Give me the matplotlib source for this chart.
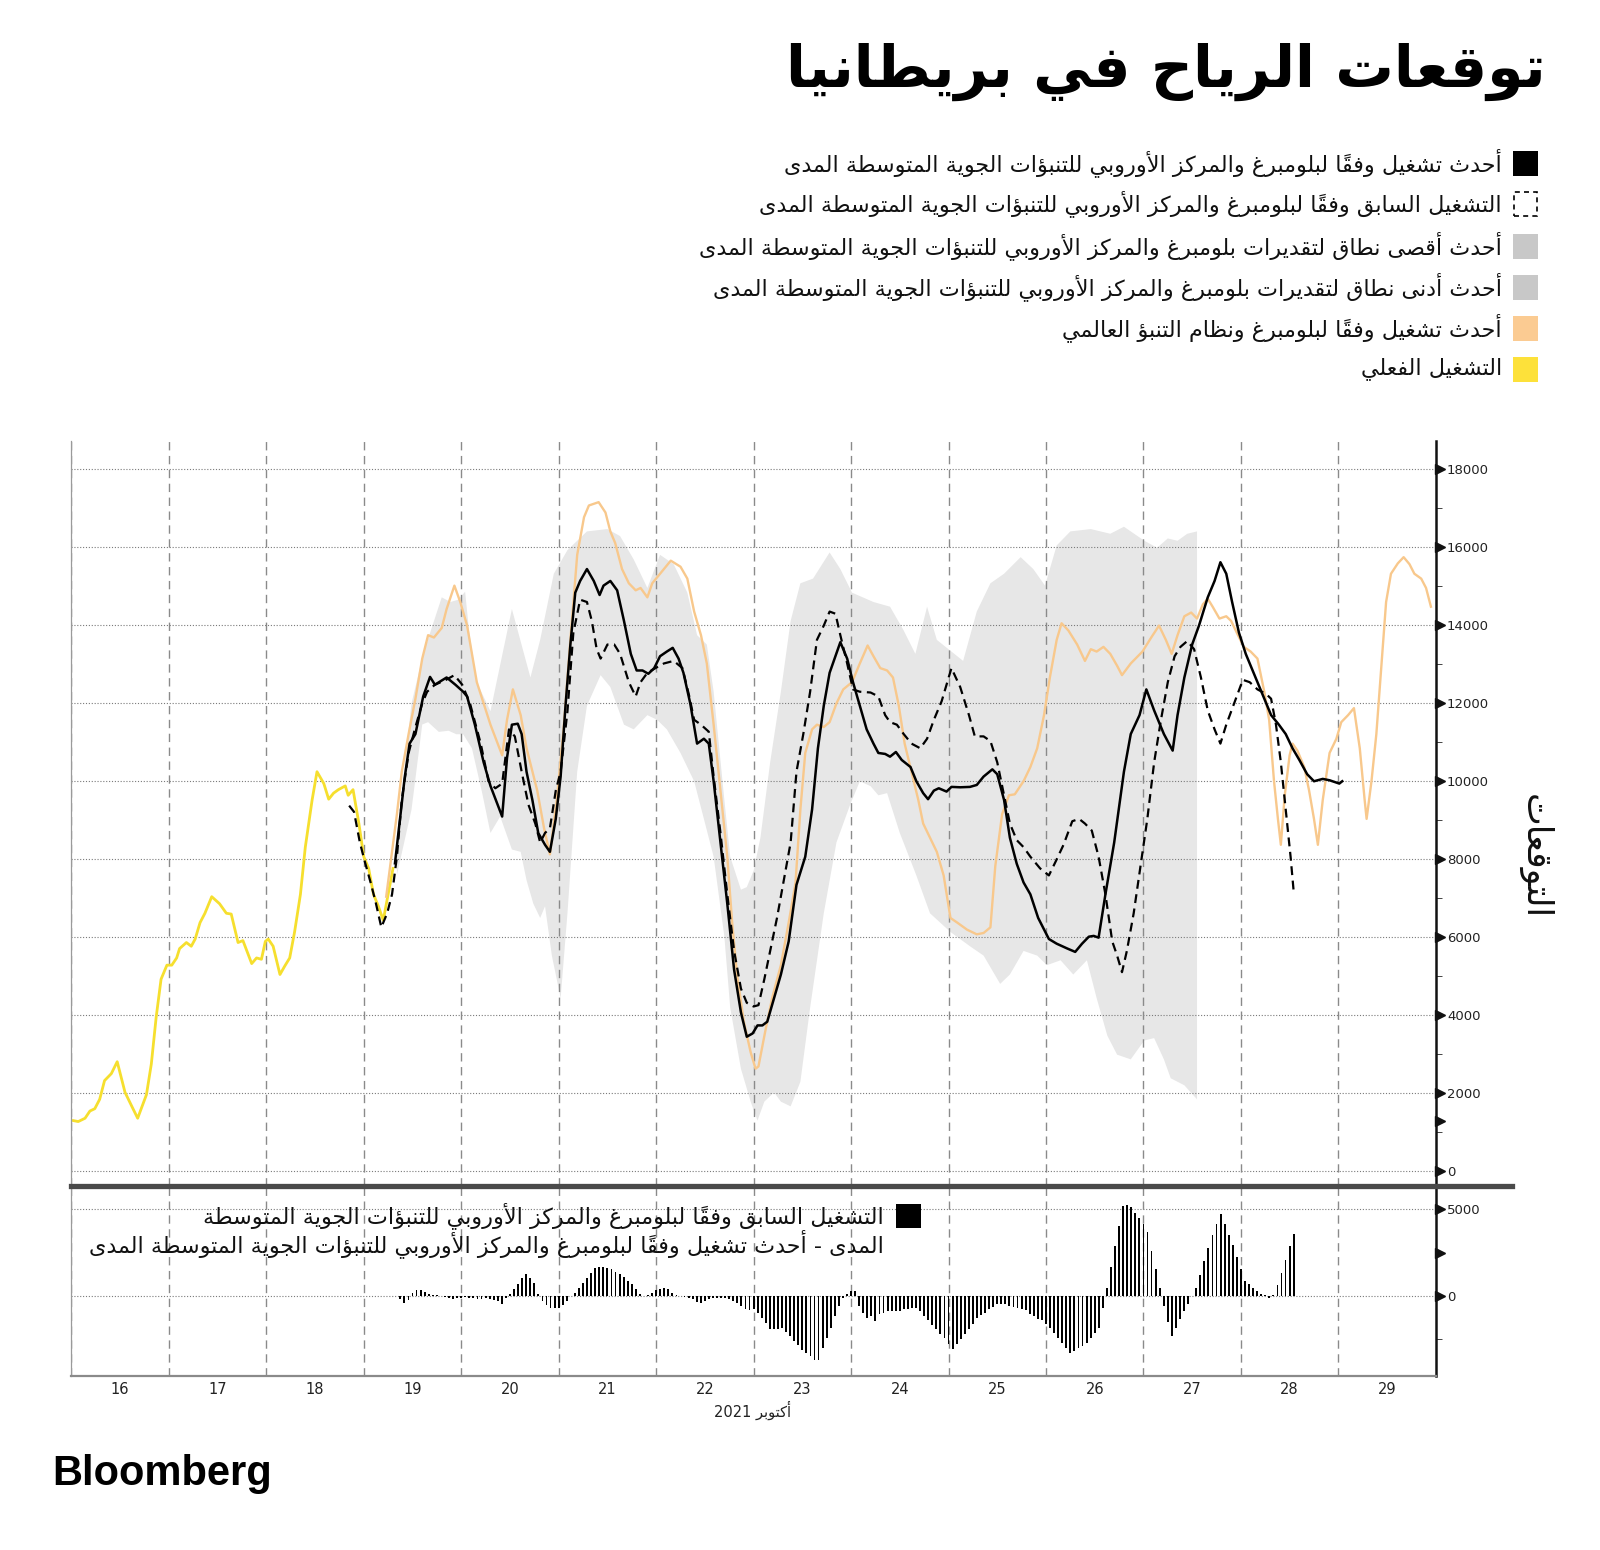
import numpy as np
import matplotlib
matplotlib.use("Agg")
import matplotlib.pyplot as plt
import matplotlib.transforms as mtransforms
from matplotlib.patches import Rectangle
from matplotlib.lines import Line2D
from matplotlib.ticker import MultipleLocator

# ---------------- data (days of October 2021, MW) ----------------
title = "توقعات الرياح في بريطانيا"
legend_labels = [
    "أحدث تشغيل وفقاً لبلومبرغ والمركز الأوروبي للتنبؤات الجوية المتوسطة المدى",
    "التشغيل السابق وفقاً لبلومبرغ والمركز الأوروبي للتنبؤات الجوية المتوسطة المدى",
    "أحدث أقصى نطاق لتقديرات بلومبرغ والمركز الأوروبي للتنبؤات الجوية المتوسطة المدى",
    "أحدث أدنى نطاق لتقديرات بلومبرغ والمركز الأوروبي للتنبؤات الجوية المتوسطة المدى",
    "أحدث تشغيل وفقاً لبلومبرغ ونظام التنبؤ العالمي",
    "التشغيل الفعلي",
]
diff_label = ["التشغيل السابق وفقاً لبلومبرغ والمركز الأوروبي للتنبؤات الجوية المتوسطة",
              "المدى - أحدث تشغيل وفقاً لبلومبرغ والمركز الأوروبي للتنبؤات الجوية المتوسطة المدى"]
ylabel = "التوقعات"
xlabel = "أكتوبر 2021"
day_labels = [str(d) for d in range(16, 30)]

actual_day = [16.02, 16.07, 16.14, 16.19, 16.24, 16.29, 16.34, 16.41, 16.47, 16.55, 16.62, 16.68,
              16.77, 16.82, 16.87, 16.92, 16.98, 17.03, 17.08, 17.11, 17.18, 17.23, 17.27, 17.32,
              17.37, 17.44, 17.52, 17.59, 17.64, 17.71, 17.76, 17.85, 17.90, 17.95, 17.99, 18.02,
              18.07, 18.14, 18.19, 18.24, 18.29, 18.35, 18.40, 18.47, 18.52, 18.59, 18.64, 18.69,
              18.74, 18.81, 18.84, 18.89, 18.95, 19.00, 19.05, 19.10, 19.15, 19.20, 19.25, 19.30]
actual_mw = [1305, 1280, 1365, 1550, 1610, 1850, 2330, 2510, 2815, 2030, 1670, 1365,
             1970, 2755, 3960, 4930, 5290, 5290, 5475, 5715, 5870, 5775, 5960, 6380,
             6620, 7045, 6865, 6620, 6600, 5870, 5920, 5330, 5475, 5440, 5900, 5960,
             5775, 5050, 5270, 5475, 6140, 7105, 8315, 9525, 10250, 9945, 9545, 9700,
             9790, 9885, 9645, 9790, 8920, 8070, 7770, 7105, 6800, 6440, 7105, 7770]

latest_day = [19.32, 19.37, 19.42, 19.47, 19.53, 19.61, 19.68, 19.73, 19.85, 19.94, 20.02, 20.06,
              20.14, 20.23, 20.30, 20.42, 20.47, 20.52, 20.58, 20.62, 20.67, 20.73, 20.79, 20.86,
              20.91, 20.97, 21.02, 21.07, 21.12, 21.17, 21.22, 21.29, 21.36, 21.42, 21.46, 21.53,
              21.60, 21.67, 21.74, 21.80, 21.86, 21.92, 21.98, 22.04, 22.11, 22.17, 22.23, 22.28,
              22.35, 22.42, 22.49, 22.54, 22.59, 22.66, 22.73, 22.80, 22.87, 22.93, 22.99, 23.04,
              23.09, 23.14, 23.28, 23.36, 23.44, 23.53, 23.60, 23.66, 23.72, 23.78, 23.89, 23.96,
              24.02, 24.09, 24.16, 24.23, 24.28, 24.35, 24.40, 24.46, 24.52, 24.61, 24.67, 24.74,
              24.79, 24.85, 24.90, 24.98, 25.03, 25.12, 25.22, 25.29, 25.36, 25.45, 25.50, 25.57,
              25.63, 25.70, 25.77, 25.84, 25.92, 26.03, 26.11, 26.22, 26.30, 26.37, 26.44, 26.49,
              26.54, 26.61, 26.70, 26.80, 26.87, 26.96, 27.03, 27.11, 27.21, 27.30, 27.35, 27.42,
              27.50, 27.57, 27.66, 27.73, 27.79, 27.85, 27.91, 27.98, 28.05, 28.14, 28.22, 28.31,
              28.39, 28.46, 28.53, 28.60, 28.68, 28.75, 28.84, 28.91, 29.01, 29.04]
latest_mw = [7900, 9000, 10100, 10970, 11215, 12180, 12680, 12480, 12665, 12480, 12300, 12180,
             11455, 10490, 9885, 9100, 10610, 11455, 11480, 11215, 10250, 9525, 8680, 8375,
             8195, 9040, 10125, 11940, 13510, 14840, 15140, 15445, 15140, 14780, 15020, 15140,
             14900, 14115, 13270, 12845, 12845, 12760, 12905, 13210, 13330, 13425, 13150, 12785,
             12000, 10970, 11095, 10970, 10005, 8435, 6865, 5170, 4080, 3455, 3540, 3745,
             3745, 3840, 5050, 5900, 7350, 8070, 9280, 10850, 11940, 12785, 13570, 13150,
             12545, 11940, 11335, 10970, 10730, 10705, 10635, 10755, 10550, 10370, 10005, 9700,
             9545, 9765, 9825, 9740, 9860, 9850, 9860, 9910, 10125, 10310, 10185, 9525,
             8555, 7890, 7410, 7105, 6500, 5960, 5840, 5715, 5630, 5840, 6020, 6040,
             5995, 7105, 8435, 10250, 11215, 11700, 12360, 11820, 11215, 10790, 11700, 12665,
             13510, 13995, 14720, 15140, 15620, 15325, 14600, 13815, 13270, 12725, 12240, 11700,
             11455, 11215, 10850, 10550, 10185, 10005, 10065, 10030, 9945, 10005]

prev_day = [18.85, 18.90, 18.96, 19.01, 19.07, 19.12, 19.18, 19.24, 19.29, 19.34, 19.39, 19.46,
            19.53, 19.60, 19.65, 19.73, 19.84, 19.93, 20.01, 20.09, 20.20, 20.28, 20.35, 20.42,
            20.49, 20.55, 20.62, 20.69, 20.76, 20.81, 20.86, 20.91, 20.97, 21.02, 21.09, 21.15,
            21.22, 21.29, 21.34, 21.39, 21.43, 21.50, 21.57, 21.63, 21.72, 21.79, 21.84, 21.91,
            22.01, 22.08, 22.18, 22.27, 22.34, 22.39, 22.46, 22.54, 22.59, 22.66, 22.73, 22.80,
            22.87, 22.93, 23.00, 23.05, 23.11, 23.17, 23.24, 23.31, 23.38, 23.44, 23.51, 23.58,
            23.65, 23.72, 23.78, 23.84, 23.89, 23.96, 24.02, 24.09, 24.20, 24.28, 24.35, 24.40,
            24.47, 24.54, 24.62, 24.71, 24.78, 24.85, 24.93, 25.03, 25.12, 25.21, 25.27, 25.36,
            25.43, 25.50, 25.57, 25.63, 25.70, 25.77, 25.84, 25.94, 26.03, 26.10, 26.18, 26.27,
            26.34, 26.40, 26.47, 26.54, 26.61, 26.68, 26.73, 26.78, 26.83, 26.90, 26.97, 27.04,
            27.11, 27.18, 27.25, 27.32, 27.38, 27.45, 27.52, 27.59, 27.66, 27.73, 27.79, 27.85,
            27.93, 28.02, 28.09, 28.17, 28.26, 28.31, 28.36, 28.41, 28.46, 28.51, 28.54]
prev_mw = [9380, 9220, 8435, 7950, 7410, 6925, 6260, 6620, 7105, 8070, 9525, 10730,
           11395, 12000, 12300, 12480, 12600, 12725, 12480, 12000, 10970, 10005, 9825, 9945,
           11335, 11155, 10250, 9400, 8920, 8435, 8680, 8800, 9765, 10250, 11800, 13800,
           14660, 14600, 14115, 13390, 13150, 13510, 13510, 13270, 12545, 12180, 12545, 12785,
           12930, 13025, 13090, 12905, 12180, 11580, 11455, 11275, 10125, 8680, 7105, 5655,
           4690, 4325, 4230, 4265, 4930, 5655, 6500, 7470, 8435, 10250, 11215, 12300,
           13630, 13995, 14355, 14300, 13750, 13025, 12360, 12300, 12280, 12180, 11700, 11520,
           11455, 11215, 10970, 10850, 11095, 11580, 12060, 12905, 12420, 11700, 11155, 11155,
           11035, 10490, 9645, 8920, 8495, 8315, 8070, 7770, 7590, 7950, 8375, 8980,
           9040, 8920, 8740, 8070, 7105, 5900, 5535, 5110, 5655, 6620, 7830, 9040,
           10490, 11580, 12545, 13210, 13450, 13600, 13390, 12665, 11820, 11335, 10970, 11455,
           12000, 12605, 12545, 12360, 12240, 12120, 11455, 10490, 9280, 8070, 7225]

gfs_day = [19.23, 19.29, 19.34, 19.39, 19.46, 19.53, 19.60, 19.66, 19.72, 19.80, 19.85, 19.93,
           19.99, 20.06, 20.16, 20.30, 20.42, 20.47, 20.53, 20.61, 20.67, 20.78, 20.85, 20.91,
           20.98, 21.05, 21.12, 21.19, 21.26, 21.31, 21.41, 21.48, 21.53, 21.58, 21.65, 21.72,
           21.79, 21.84, 21.91, 21.96, 22.04, 22.15, 22.25, 22.32, 22.39, 22.46, 22.52, 22.59,
           22.66, 22.73, 22.78, 22.83, 22.90, 22.97, 23.02, 23.05, 23.12, 23.19, 23.28, 23.36,
           23.43, 23.48, 23.53, 23.60, 23.65, 23.72, 23.78, 23.85, 23.92, 24.01, 24.09, 24.17,
           24.23, 24.30, 24.37, 24.43, 24.49, 24.55, 24.62, 24.69, 24.74, 24.81, 24.88, 24.95,
           25.02, 25.09, 25.19, 25.29, 25.36, 25.43, 25.48, 25.55, 25.62, 25.68, 25.77, 25.84,
           25.91, 25.98, 26.04, 26.11, 26.16, 26.23, 26.32, 26.40, 26.46, 26.52, 26.59, 26.66,
           26.73, 26.78, 26.87, 26.99, 27.08, 27.16, 27.23, 27.29, 27.35, 27.42, 27.49, 27.55,
           27.61, 27.66, 27.71, 27.78, 27.85, 27.90, 27.97, 28.03, 28.10, 28.17, 28.24, 28.29,
           28.34, 28.38, 28.41, 28.45, 28.50, 28.53, 28.58, 28.65, 28.70, 28.75, 28.79, 28.84,
           28.91, 28.98, 29.03, 29.10, 29.16, 29.22, 29.27, 29.29, 29.34, 29.39, 29.44, 29.49,
           29.54, 29.61, 29.67, 29.73, 29.78, 29.85, 29.90, 29.95]
gfs_mw = [7045, 8195, 9160, 10250, 11215, 12120, 13150, 13750, 13690, 13935, 14420, 15020,
          14600, 14000, 12545, 11455, 10670, 11580, 12360, 11700, 10855, 9765, 8800, 8130,
          9525, 11335, 13630, 15810, 16775, 17075, 17160, 16895, 16410, 16110, 15445, 15080,
          14900, 14960, 14720, 15080, 15325, 15660, 15505, 15200, 14355, 13750, 13025, 11455,
          9765, 8070, 6380, 5050, 3840, 3055, 2635, 2695, 3600, 4445, 5290, 6380,
          7400, 9280, 10730, 11335, 11455, 11395, 11520, 12000, 12360, 12545, 13025, 13485,
          13210, 12905, 12845, 12665, 11940, 10970, 10250, 9525, 8920, 8555, 8195, 7590,
          6500, 6380, 6200, 6080, 6115, 6260, 7830, 9160, 9645, 9670, 10005, 10370,
          10850, 11700, 12665, 13630, 14055, 13870, 13510, 13090, 13390, 13330, 13450, 13270,
          12965, 12725, 13025, 13330, 13690, 13995, 13630, 13270, 13750, 14235, 14330, 14175,
          14540, 14685, 14480, 14175, 14235, 14115, 13750, 13450, 13330, 13150, 12300, 11580,
          10005, 9040, 8375, 9645, 10670, 10970, 10790, 10370, 9765, 9040, 8375, 9525,
          10730, 11095, 11520, 11700, 11880, 10850, 9525, 9040, 10005, 11215, 12905, 14600,
          15325, 15590, 15750, 15570, 15325, 15200, 14960, 14480]

band_hi_day = [19.34, 19.49, 19.61, 19.80, 19.89, 19.97, 20.04, 20.08, 20.16, 20.30, 20.52, 20.71,
               20.81, 20.95, 21.09, 21.29, 21.50, 21.63, 21.77, 21.91, 22.04, 22.18, 22.32, 22.42,
               22.52, 22.59, 22.70, 22.76, 22.87, 22.93, 23.00, 23.07, 23.17, 23.28, 23.38, 23.48,
               23.61, 23.78, 23.89, 24.01, 24.23, 24.40, 24.54, 24.66, 24.78, 24.88, 25.00, 25.15,
               25.29, 25.43, 25.57, 25.74, 25.87, 25.99, 26.11, 26.25, 26.46, 26.66, 26.80, 27.01,
               27.14, 27.25, 27.35, 27.45, 27.55]
band_hi = [8600, 12000, 13270, 14720, 14600, 14660, 14865, 13870, 12545, 11800, 14420, 12665,
           13630, 15325, 15930, 16410, 16470, 16290, 15690, 14960, 15810, 15570, 14840, 13750,
           13510, 12300, 9525, 8070, 7225, 7290, 7710, 8555, 10490, 12300, 14115, 15080,
           15200, 15870, 15445, 14840, 14600, 14480, 13870, 13270, 14480, 13630, 13390, 13090,
           14355, 15080, 15325, 15750, 15445, 15020, 16050, 16410, 16470, 16350, 16530, 16170,
           15990, 16230, 16170, 16350, 16410]
band_lo_day = [19.34, 19.49, 19.60, 19.66, 19.77, 19.87, 19.95, 20.02, 20.11, 20.21, 20.30, 20.40,
               20.52, 20.61, 20.67, 20.74, 20.81, 20.86, 20.93, 21.02, 21.09, 21.19, 21.29, 21.43,
               21.53, 21.67, 21.77, 21.91, 22.01, 22.11, 22.25, 22.39, 22.49, 22.59, 22.70, 22.76,
               22.87, 22.97, 23.04, 23.11, 23.21, 23.28, 23.38, 23.48, 23.58, 23.72, 23.85, 23.99,
               24.09, 24.20, 24.28, 24.37, 24.50, 24.67, 24.81, 25.02, 25.22, 25.36, 25.53, 25.63,
               25.77, 25.91, 26.01, 26.15, 26.28, 26.42, 26.52, 26.63, 26.73, 26.87, 26.94, 27.01,
               27.11, 27.21, 27.28, 27.42, 27.55]
band_lo = [7600, 9280, 11460, 11520, 11270, 11300, 11210, 11210, 10850, 9760, 8680, 9100,
           8255, 8195, 7470, 6865, 6500, 6800, 5535, 4445, 6620, 10250, 11940, 12725,
           12420, 11455, 11335, 11700, 11580, 11335, 10730, 10005, 9040, 8070, 6020, 4200,
           2635, 1790, 1305, 1790, 2030, 1790, 1670, 2300, 4200, 6620, 8435, 9400,
           10005, 9880, 9645, 9700, 8680, 7590, 6620, 6140, 5775, 5535, 4810, 5050,
           5655, 5535, 5290, 5415, 5050, 5415, 4445, 3480, 2995, 2875, 3120, 3360,
           3420, 2875, 2390, 2210, 1850]

# hourly difference bars, first bar 19 Oct 09:00
diff_start = 19.375
diff_mw = [-200, -400, -250, 150, 330, 330, 250, 130, 80, 40, 0, -30,
           -130, -200, -100, -100, -60, -100, -130, -200, -200, -130, -200, -250,
           -290, -480, -100, 130, 380, 710, 1060, 1290, 1060, 770, 100, -300,
           -520, -710, -710, -670, -520, -290, 0, 190, 440, 770, 1060, 1350,
           1600, 1670, 1670, 1630, 1540, 1400, 1250, 1100, 870, 670, 380, 130,
           0, 60, 190, 330, 380, 440, 380, 190, 60, 0, -30, -100,
           -200, -330, -380, -290, -200, -130, -130, -100, -130, -200, -290, -380,
           -580, -770, -820, -770, -960, -1250, -1540, -1920, -1920, -1920, -1820, -2060,
           -2310, -2560, -2830, -3080, -3270, -3460, -3650, -3650, -2980, -2400, -1830, -1150,
           -580, -100, 100, 290, 290, -580, -960, -1250, -1150, -1440, -1060, -960,
           -860, -860, -860, -860, -770, -770, -710, -670, -860, -1150, -1400, -1670,
           -1920, -2160, -2390, -2740, -3070, -2780, -2490, -2200, -1920, -1590, -1280, -1090,
           -960, -770, -630, -480, -440, -440, -570, -630, -710, -770, -820, -1020,
           -1150, -1300, -1400, -1590, -1820, -2110, -2390, -2680, -2970, -3260, -3160, -3010,
           -2870, -2680, -2390, -2110, -1820, -670, 480, 1670, 2870, 4020, 5170, 5230,
           5110, 4790, 4500, 4120, 3700, 2590, 1530, 480, -570, -1480, -2300, -1820,
           -1340, -860, -440, 0, 480, 1210, 2010, 2780, 3510, 4160, 4690, 4120,
           3510, 2930, 2240, 1530, 860, 670, 480, 290, 130, 60, -130, 60,
           630, 1340, 2050, 2850, 3580]

# ---------------- arabic shaping (no bidi engine available) ----------------
RIGHT_JOIN = {'\u0622': 0xFE81, '\u0623': 0xFE83, '\u0624': 0xFE85, '\u0625': 0xFE87,
              '\u0627': 0xFE8D, '\u0629': 0xFE93, '\u062F': 0xFEA9, '\u0630': 0xFEAB,
              '\u0631': 0xFEAD, '\u0632': 0xFEAF, '\u0648': 0xFEED, '\u0649': 0xFEEF}
DUAL_JOIN = {'\u0626': 0xFE89, '\u0628': 0xFE8F, '\u062A': 0xFE95, '\u062B': 0xFE99,
             '\u062C': 0xFE9D, '\u062D': 0xFEA1, '\u062E': 0xFEA5, '\u0633': 0xFEB1,
             '\u0634': 0xFEB5, '\u0635': 0xFEB9, '\u0636': 0xFEBD, '\u0637': 0xFEC1,
             '\u0638': 0xFEC5, '\u0639': 0xFEC9, '\u063A': 0xFECD, '\u0641': 0xFED1,
             '\u0642': 0xFED5, '\u0643': 0xFED9, '\u0644': 0xFEDD, '\u0645': 0xFEE1,
             '\u0646': 0xFEE5, '\u0647': 0xFEE9, '\u064A': 0xFEF1}
LAM_ALEF = {'\u0622': 0xFEF5, '\u0623': 0xFEF7, '\u0625': 0xFEF9, '\u0627': 0xFEFB}


def arabic(text):
    toks = []
    i = 0
    while i < len(text):
        c = text[i]
        if c == '\u0644' and i + 1 < len(text) and text[i + 1] in LAM_ALEF:
            toks.append(['lamalef', text[i + 1], ''])
            i += 2
            continue
        if '\u064B' <= c <= '\u0652' and toks:
            toks[-1][2] += c
        elif c in DUAL_JOIN:
            toks.append(['dual', c, ''])
        elif c in RIGHT_JOIN:
            toks.append(['right', c, ''])
        else:
            toks.append(['none', c, ''])
        i += 1
    glyphs = []
    for k, (kind, c, marks) in enumerate(toks):
        prev_dual = k > 0 and toks[k - 1][0] == 'dual'
        next_join = k + 1 < len(toks) and toks[k + 1][0] != 'none'
        if kind == 'dual':
            g = DUAL_JOIN[c] + (3 if prev_dual and next_join else 1 if prev_dual else 2 if next_join else 0)
        elif kind == 'right':
            g = RIGHT_JOIN[c] + (1 if prev_dual else 0)
        elif kind == 'lamalef':
            g = LAM_ALEF[c] + (1 if prev_dual else 0)
        else:
            glyphs.append(c + marks)
            continue
        glyphs.append(chr(g) + marks)
    # visual order: reverse, but keep runs of digits left-to-right
    out, run = [], ''
    for g in glyphs:
        if g.isdigit():
            run += g
        else:
            if run:
                out.append(run)
                run = ''
            out.append(g)
    if run:
        out.append(run)
    return ''.join(reversed(out))


# ---------------- figure ----------------
W, H = 1600, 1550
fig = plt.figure(figsize=(W / 100, H / 100), dpi=100)
plt.rcParams['font.family'] = ['DejaVu Sans']


def fx(px):
    return px / W


def fy(py):
    return 1 - py / H


x0, x1 = 71.4, 1435.8
ax = fig.add_axes([fx(x0), fy(1186), fx(x1) - fx(x0), fy(441) - fy(1186)])
axb = fig.add_axes([fx(x0), fy(1376), fx(x1) - fx(x0), fy(1186) - fy(1376)])

YELLOW = '#f6df2e'
ORANGE = '#f8c88c'
BAND = '#e7e7e7'
GRIDC = '#8a8a8a'

# main panel
ax.fill(np.r_[band_hi_day, band_lo_day[::-1]], np.r_[band_hi, band_lo[::-1]],
        color=BAND, lw=0, zorder=0.5)
for v in range(0, 18001, 2000):
    ax.axhline(v, color='#7a7a7a', lw=0.8, ls=(0, (1, 1.6)), zorder=1)
ax.plot(actual_day, actual_mw, color=YELLOW, lw=2.0, zorder=2)
ax.plot(gfs_day, gfs_mw, color=ORANGE, lw=1.7, zorder=3)
ax.plot(prev_day, prev_mw, color='black', lw=1.6, ls=(0, (4, 2.5)), zorder=4)
ax.plot(latest_day, latest_mw, color='black', lw=1.8, zorder=5)

# difference panel
bar_day = diff_start + np.arange(len(diff_mw)) / 24
axb.bar(bar_day, diff_mw, width=0.019, color='black', zorder=3)
for v in (0, 5000):
    axb.axhline(v, color='#7a7a7a', lw=0.8, ls=(0, (1, 1.6)), zorder=1)

for a in (ax, axb):
    a.set_xlim(16, 30)
    for d in range(16, 30):
        a.axvline(d, color=GRIDC, lw=1.0, ls=(0, (6, 4)), zorder=1.5)
    for s in ('top', 'bottom', 'left'):
        a.spines[s].set_visible(False)
    a.spines['right'].set_color('#111111')
    a.spines['right'].set_linewidth(1.8)
    a.spines['left'].set_visible(True)
    a.spines['left'].set_color('#9a9a9a')
    a.spines['left'].set_linewidth(0.9)
    a.yaxis.tick_right()
    a.tick_params(axis='y', which='major', length=0, pad=8, labelsize=9.5, labelcolor='#222222')
    a.tick_params(axis='y', which='minor', length=4, width=0.7, color='#444444', right=True, left=False)
    a.set_facecolor('none')

ax.set_ylim(-372, 18728)
ax.set_yticks(range(0, 18001, 2000))
ax.yaxis.set_minor_locator(MultipleLocator(1000))
ax.set_xticks([])

axb.set_ylim(-4598, 6322)
axb.set_yticks([0, 5000])
axb.set_yticks([-2500], minor=True)
axb.spines['bottom'].set_visible(True)
axb.spines['bottom'].set_color('#8a8a8a')
axb.spines['bottom'].set_linewidth(1.6)
axb.set_xticks(np.arange(16.5, 30, 1))
axb.set_xticklabels(day_labels)
axb.tick_params(axis='x', length=0, pad=4, labelsize=10.5, labelcolor='#222222')

# triangle tick marks on the right spine
for a, vals in ((ax, list(range(0, 18001, 2000)) + [1300]), (axb, [0, 2500, 5000])):
    tr = mtransforms.offset_copy(a.get_yaxis_transform(), fig=fig, x=4.5, y=0, units='dots')
    a.plot([1.0] * len(vals), vals, ls='none', marker='>', ms=6.5, color='#111111',
           transform=tr, clip_on=False, zorder=6)

# separator between panels
fig.add_artist(Line2D([fx(x0), fx(1512)], [fy(1186), fy(1186)], color='#4a4a4a', lw=3.8))

# title
fig.text(fx(1546), fy(87), arabic(title), ha='right', va='baseline',
         fontsize=42, fontweight='bold', color='black')

# legend
legend_y = [163, 204, 246, 287, 328, 369]
legend_fc = ['black', 'white', '#c8c8c8', '#c8c8c8', '#fbcb92', '#fde13a']
for lab, yy, fc in zip(legend_labels, legend_y, legend_fc):
    if fc == 'white':
        sq = Rectangle((fx(1514), fy(yy + 11.5)), 23 / W, 23 / H, transform=fig.transFigure,
                       facecolor='white', edgecolor='black', lw=1.2, ls=(0, (3, 2.5)))
    else:
        sq = Rectangle((fx(1513), fy(yy + 12.5)), 25 / W, 25 / H, transform=fig.transFigure,
                       facecolor=fc, edgecolor='none')
    fig.add_artist(sq)
    fig.text(fx(1502), fy(yy), arabic(lab), ha='right', va='center', fontsize=16, color='#111111')

# difference legend
fig.add_artist(Rectangle((fx(896), fy(1228)), 25 / W, 24 / H, transform=fig.transFigure,
                         facecolor='black', edgecolor='none'))
fig.text(fx(884), fy(1216), arabic(diff_label[0]), ha='right', va='center', fontsize=16, color='#111111')
fig.text(fx(884), fy(1244), arabic(diff_label[1]), ha='right', va='center', fontsize=16, color='#111111')

# axis labels
fig.text(fx(1534), fy(857), arabic(ylabel), rotation=270, ha='center', va='center',
         fontsize=25, color='#111111')
fig.text(fx(753), fy(1410), arabic(xlabel), ha='center', va='center', fontsize=10.5, color='#222222')

# logo
fig.text(fx(52), fy(1485), 'Bloomberg', ha='left', va='baseline', fontsize=30,
         fontweight='bold', family='Liberation Sans', color='black')

fig.savefig('out.png', dpi=100)
